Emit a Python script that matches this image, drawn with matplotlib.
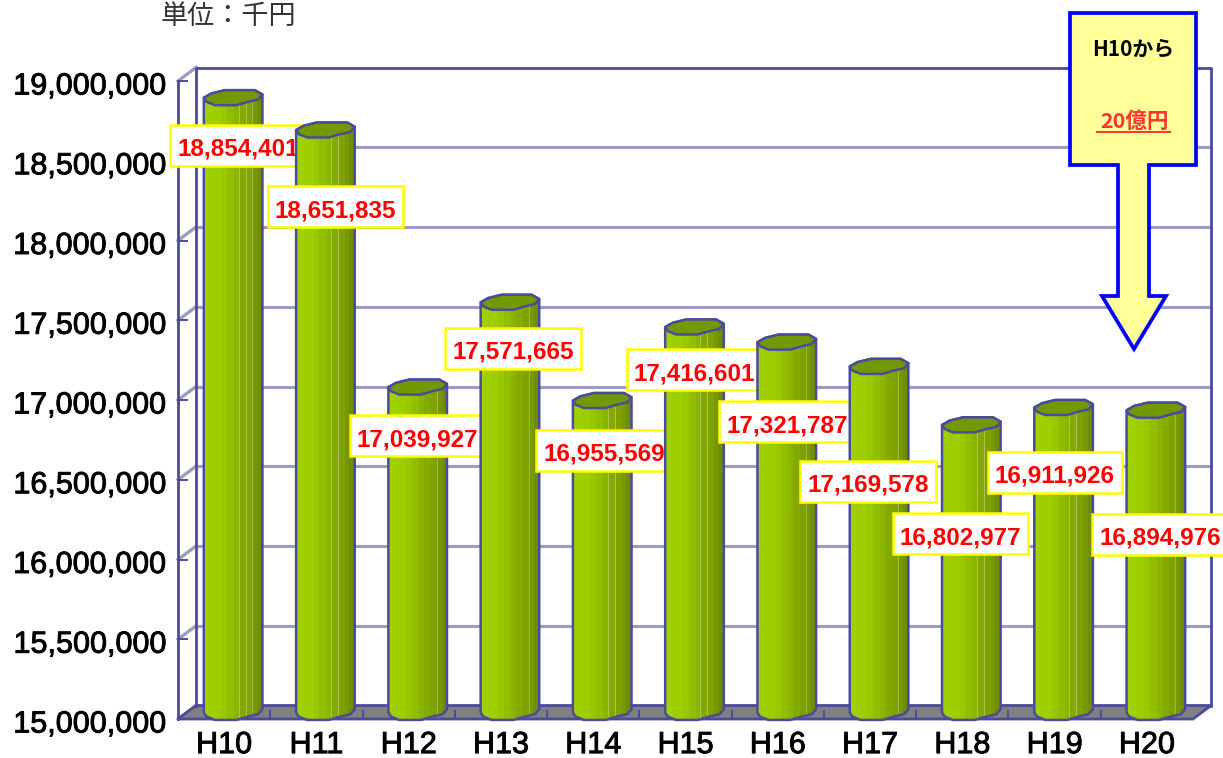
import numpy as np
import matplotlib
matplotlib.use("Agg")
import matplotlib.pyplot as plt
from matplotlib.patches import Polygon
from matplotlib.path import Path
from matplotlib.transforms import Affine2D, ScaledTranslation
import matplotlib.patheffects as pe

categories = ["H10", "H11", "H12", "H13", "H14", "H15", "H16", "H17", "H18", "H19", "H20"]
values = [18854401, 18651835, 17039927, 17571665, 16955569, 17416601,
          17321787, 17169578, 16802977, 16911926, 16894976]
y_ticks = [15000000, 15500000, 16000000, 16500000, 17000000, 17500000,
           18000000, 18500000, 19000000]

# label box offsets from the top of each column (pixels, x right / y down)
label_dx = [5, 10, 0, 3, 2, 0, 0, -11, -11, -9, 4]
label_dy = [52, 81, 53, 50, 54, 47, 84, 119, 113, 69, 128]

W, H = 1223, 758
YMIN, YMAX = 15e6, 19e6
L, R, T, B = 178, 1193, 81, 719
PX_X = (R - L) / 11.0
PX_Y = (B - T) / (YMAX - YMIN)
DX = 18 / PX_X            # depth offset, category units
DY = 13.5 / PX_Y          # depth offset, value units

EDGE = "#4B4B9B"
GRID = "#9C9CC2"
stripes = [(0.04, "#A4D400"), (0.10, "#A0D000"), (0.16, "#9CCE00"), (0.10, "#97C800"),
           (0.12, "#90BE00"), (0.08, "#8AB400"), (0.01, "#A9C64A"), (0.11, "#84A900"),
           (0.01, "#A9C64A"), (0.10, "#7FA200"), (0.01, "#A0BC40"), (0.07, "#779800"),
           (0.09, "#6F8E00")]
# lumpy outline of a column end, pixels from its centre (clockwise from the left end)
cap_x = np.array([-29.3, -21.7, -8.3, 21.7, 29.3, 25.0, 15.0, 3.3, -18.3, -26.7])
cap_y = np.array([-0.3, 4.0, 7.3, 7.3, 3.0, -2.0, -4.3, -7.7, -7.7, -4.3])


def label_box(x0, y0, width, height, mutation_size):
    """Box around a label: 7 px at the sides, 5 px below and 13 px above the text."""
    xa, xb = x0 - 7, x0 + width + 7
    ya, yb = y0 - 5, y0 + height + 13
    return Path([(xa, ya), (xb, ya), (xb, yb), (xa, yb), (xa, ya)],
                [Path.MOVETO, Path.LINETO, Path.LINETO, Path.LINETO, Path.CLOSEPOLY])


plt.rcParams["font.family"] = ["Liberation Sans", "Noto Sans CJK JP", "DejaVu Sans"]
fig = plt.figure(figsize=(W / 100, H / 100), dpi=100, facecolor="white")
ax = fig.add_axes([L / W, 1 - B / H, (R - L) / W, (B - T) / H])
ax.set_xlim(-0.5, 10.5)
ax.set_ylim(YMIN, YMAX)
ax.patch.set_alpha(0)
px = Affine2D().scale(1 / W, -1 / H).translate(0, 1) + fig.transFigure

# walls and floor
for sp in ("top", "right", "bottom"):
    ax.spines[sp].set_visible(False)
ax.spines["left"].set_color(EDGE)
ax.spines["left"].set_linewidth(2.0)
ax.spines["left"].set_zorder(1.5)
x0, x1 = -0.5, 10.5
ax.add_patch(Polygon([(x0, YMIN), (x1, YMIN), (x1 + DX, YMIN + DY), (x0 + DX, YMIN + DY)],
                     facecolor="#808080", edgecolor=EDGE, lw=2.0, zorder=1.2, clip_on=False))
for v in y_ticks:
    if v > YMIN and v < YMAX:
        ax.plot([x0 + DX, x1 + DX], [v + DY, v + DY], color=GRID, lw=2.2, zorder=1, clip_on=False)
    ax.plot([x0, x0 + DX], [v, v + DY], color=GRID, lw=2.4, zorder=1.1, clip_on=False)
ax.plot([x0 + DX, x0 + DX, x1 + DX, x1 + DX], [YMIN + DY, YMAX + DY, YMAX + DY, YMIN + DY],
        color=EDGE, lw=2.0, zorder=1.3, clip_on=False)

# axes ticks
ax.set_yticks(y_ticks)
ax.set_yticklabels([f"{v:,}" for v in y_ticks], fontsize=22)
ax.set_xticks(range(len(categories)))
ax.set_xticklabels(categories, fontsize=22)
ax.set_xticks(np.arange(0.5, 10.5, 1.0), minor=True)
ax.tick_params(axis="y", direction="in", length=7, width=1.4, color=EDGE, pad=8)
ax.tick_params(axis="x", which="major", length=0, pad=8)
ax.tick_params(axis="x", which="minor", direction="in", length=6.5, width=1.4, color=EDGE)
shift = ScaledTranslation(0, -2 / 100, fig.dpi_scale_trans)
stroke = [pe.withStroke(linewidth=0.65, foreground="black")]
for t in ax.get_yticklabels():
    t.set_transform(t.get_transform() + shift)
    t.set_path_effects(stroke)
for t in ax.get_xticklabels():
    t.set_path_effects(stroke)

# columns: each is drawn over the previous column's label box
bar_w = 58.6 / PX_X
for i, (cat, v) in enumerate(zip(categories, values)):
    z = 3 + i
    cx = i + DX / 2
    top = v + DY / 2
    bottom = YMIN + DY / 2
    tx, ty = cx + cap_x / PX_X, top + cap_y / PX_Y
    bx, by = cx + cap_x / PX_X, bottom + cap_y / PX_Y
    # closed outline: lower chain of the bottom end, then upper chain of the top end
    body = np.column_stack([np.r_[bx[4:], bx[0], tx[:5]], np.r_[by[4:], by[0], ty[:5]]])
    clip = Polygon(body, closed=True, transform=ax.transData)
    left = cx - bar_w / 2
    for frac, col in stripes:
        rects = ax.bar(left + frac * bar_w / 2, v + DY + 1e5 - YMIN, width=frac * bar_w * 1.02,
                       bottom=YMIN - 1e5, color=col, linewidth=0, zorder=z, clip_on=True)
        rects[0].set_clip_path(clip)
        left += frac * bar_w
    ax.add_patch(Polygon(body, closed=True, facecolor="none", edgecolor=EDGE, lw=1.8,
                         zorder=z + 0.2, clip_on=False, joinstyle="round"))
    ax.add_patch(Polygon(np.column_stack([tx, ty]), closed=True, facecolor="#739900",
                         edgecolor=EDGE, lw=1.8, zorder=z + 0.3, clip_on=False, joinstyle="round"))
    ax.annotate(f"{v:,}", xy=(cx, top), xytext=(label_dx[i], -label_dy[i]),
                textcoords="offset pixels", ha="center", va="center", color="#FF0000",
                fontsize=17.5, fontweight="bold", zorder=z + 0.5, annotation_clip=False,
                bbox=dict(boxstyle=label_box, facecolor="white", edgecolor="#FFFF00", lw=1.8))

# unit caption
fig.text(161 / W, 1 - 16 / H, "単位：千円", family=["Noto Sans CJK JP", "DejaVu Sans"],
         fontsize=19.5, color="#333333", ha="left", va="center")

# call-out arrow
callout = [(1070, 13), (1196, 13), (1196, 165), (1149, 165), (1149, 296), (1166, 296),
           (1134, 349), (1102, 296), (1118, 296), (1118, 165), (1070, 165)]
fig.add_artist(Polygon(callout, closed=True, facecolor="#FFFF99", edgecolor="#0000FF",
                       lw=2.7, transform=px, zorder=20, joinstyle="miter"))
fig.text(1133 / W, 1 - 49 / H, "H10から", family=["Noto Sans CJK JP", "DejaVu Sans"],
         fontsize=15, fontweight="bold", color="black", ha="center", va="center", zorder=21)
fig.text(1134 / W, 1 - 121 / H, "20億円", family=["Noto Sans CJK JP", "DejaVu Sans"],
         fontsize=15.5, fontweight="bold", color="#FF3333", ha="center", va="center", zorder=21)
fig.add_artist(plt.Line2D([1097, 1170], [132, 132], color="#FF3333", lw=1.4, transform=px, zorder=21))

fig.savefig("out.png", dpi=100, facecolor="white")
